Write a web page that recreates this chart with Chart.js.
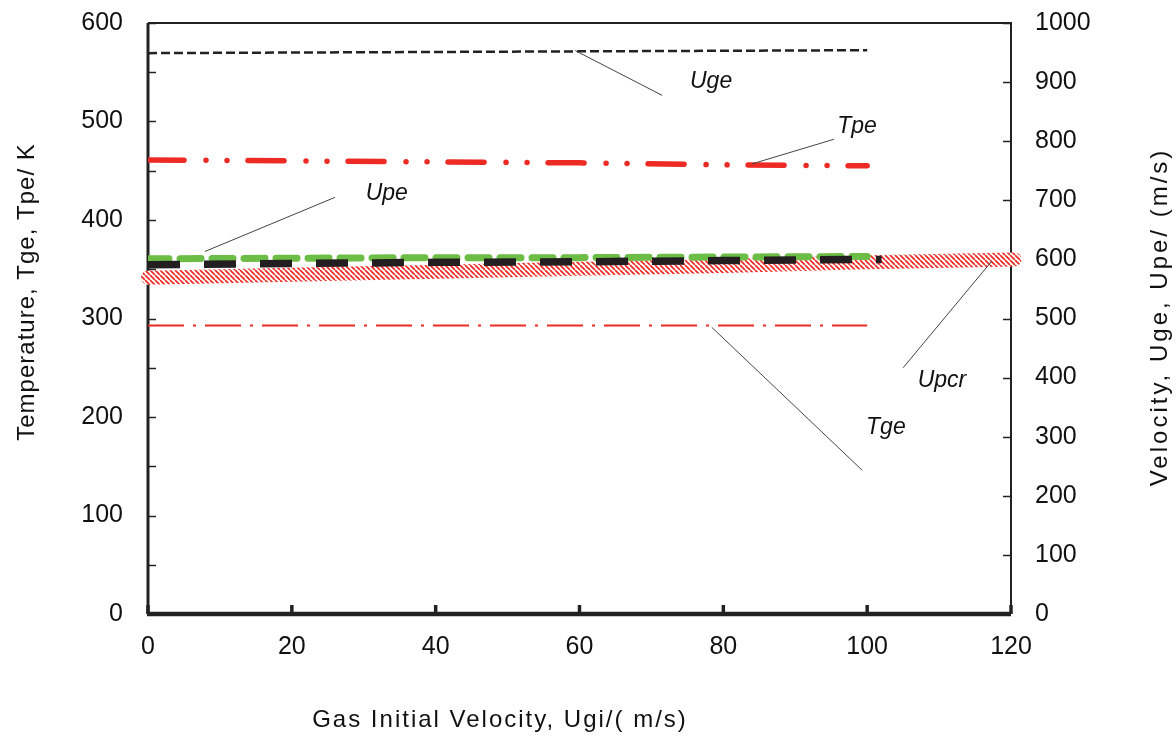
<!DOCTYPE html>
<html><head><meta charset="utf-8">
<script src="https://cdn.jsdelivr.net/npm/chart.js@4/dist/chart.umd.min.js"></script>
<style>html,body{margin:0;padding:0;background:#fff}#wrap{width:1176px;height:740px;position:relative}</style>
</head><body><div id="wrap"><canvas id="c" width="1176" height="740"></canvas></div>
<script>
// ---- data ----
const ugiX = [0, 20, 40, 60, 80, 100];
const ugeVals = [949, 950, 951, 952, 953, 954];      // right axis
const tpeVals = [461, 460, 459, 458, 456, 455];      // left axis
const upeVals = [601, 602, 603, 603, 604, 605];      // right axis
const tgeVals = [293, 293, 293, 293, 293, 293];      // left axis
const blackX = [0, 20, 40, 60, 80, 100, 102];
const blackVals = [591, 593, 595, 596, 598, 600, 600]; // right axis
const upcrX = [0, 20, 40, 60, 80, 100, 120.5];
const upcrVals = [569, 574, 579, 584, 589, 595, 600]; // right axis
const leftTicks = [0, 100, 200, 300, 400, 500, 600];
const rightTicks = [0, 100, 200, 300, 400, 500, 600, 700, 800, 900, 1000];
const xTicks = [0, 20, 40, 60, 80, 100, 120];
const leftTitle = 'Temperature, Tge, Tpe/ K';
const rightTitle = 'Velocity, Uge, Upe/ (m/s)';
const xTitle = 'Gas Initial Velocity, Ugi/( m/s)';
const notes = [
  {text: 'Uge',  at: [78.3, 540], from: [59.4, 572], to: [71.5, 526.5]},
  {text: 'Tpe',  at: [98.6, 495], from: [84.0, 457], to: [95.4, 482]},
  {text: 'Upe',  at: [33.2, 427], from: [7.9, 368],  to: [26.0, 423]},
  {text: 'Upcr', at: [110.4, 237], from: [117.3, 358], to: [105.0, 250]},
  {text: 'Tge',  at: [102.6, 189], from: [78.4, 291], to: [99.3, 146]}
];

const pts = (xs, ys) => xs.map((x, i) => ({x: x, y: ys[i]}));
const FONT = '"Liberation Sans", Arial, sans-serif';

function hatch() {
  const s = 5, c = document.createElement('canvas');
  c.width = s; c.height = s;
  const g = c.getContext('2d');
  g.fillStyle = '#fff'; g.fillRect(0, 0, s, s);
  g.strokeStyle = '#ee2a24'; g.lineWidth = 1.7;
  for (let k = -1; k <= 1; k++) {
    g.beginPath(); g.moveTo(0, k * s); g.lineTo(s, s + k * s); g.stroke();
  }
  return g.createPattern(c, 'repeat');
}

const axesPlugin = {
  id: 'axesFrame',
  beforeDatasetsDraw(chart) {
    const {ctx, chartArea: a, scales} = chart;
    ctx.save();
    ctx.strokeStyle = '#222';
    ctx.lineCap = 'butt';
    ctx.lineWidth = 2;
    ctx.beginPath(); ctx.moveTo(a.left, a.top); ctx.lineTo(a.right, a.top); ctx.lineTo(a.right, a.bottom); ctx.stroke();
    ctx.lineWidth = 3;
    ctx.beginPath(); ctx.moveTo(a.left, a.top); ctx.lineTo(a.left, a.bottom); ctx.stroke();
    ctx.lineWidth = 1.5;
    for (let v = 0; v <= 600; v += 50) {
      const y = Math.round(scales.y.getPixelForValue(v)) + 0.5;
      ctx.beginPath(); ctx.moveTo(a.left, y); ctx.lineTo(a.left + 8, y); ctx.stroke();
    }
    for (const v of rightTicks) {
      const y = Math.round(scales.y2.getPixelForValue(v)) + 0.5;
      ctx.beginPath(); ctx.moveTo(a.right - 8, y); ctx.lineTo(a.right, y); ctx.stroke();
    }
    ctx.lineWidth = 4.5;
    ctx.beginPath(); ctx.moveTo(a.left - 1, a.bottom); ctx.lineTo(a.right, a.bottom); ctx.stroke();
    ctx.lineWidth = 3.5;
    for (const v of xTicks) {
      const x = scales.x.getPixelForValue(v);
      ctx.beginPath(); ctx.moveTo(x, a.bottom); ctx.lineTo(x, a.bottom - 9); ctx.stroke();
    }
    ctx.restore();
  },
  afterDraw(chart) {
    const {ctx, scales} = chart;
    ctx.save();
    ctx.fillStyle = '#111';
    ctx.font = '24px ' + FONT;
    ctx.textAlign = 'center'; ctx.textBaseline = 'middle';
    ctx.letterSpacing = '2px';
    ctx.fillText(xTitle, 500, 720);
    ctx.letterSpacing = '1px';
    ctx.save(); ctx.translate(27, 292); ctx.rotate(-Math.PI / 2); ctx.fillText(leftTitle, 0, 0); ctx.restore();
    ctx.letterSpacing = '3px';
    ctx.save(); ctx.translate(1160, 317); ctx.rotate(-Math.PI / 2); ctx.fillText(rightTitle, 0, 0); ctx.restore();
    ctx.letterSpacing = '0px';
    ctx.strokeStyle = '#444'; ctx.lineWidth = 1;
    ctx.font = 'italic 23px ' + FONT;
    for (const n of notes) {
      ctx.beginPath();
      ctx.moveTo(scales.x.getPixelForValue(n.from[0]), scales.y.getPixelForValue(n.from[1]));
      ctx.lineTo(scales.x.getPixelForValue(n.to[0]), scales.y.getPixelForValue(n.to[1]));
      ctx.stroke();
      ctx.fillText(n.text, scales.x.getPixelForValue(n.at[0]), scales.y.getPixelForValue(n.at[1]));
    }
    ctx.restore();
  }
};

const noPad = s => { s.paddingTop = 0; s.paddingBottom = 0; s.paddingLeft = 0; s.paddingRight = 0; };
const RED = '#ee2a24';
new Chart(document.getElementById('c'), {
  type: 'line',
  data: {
    datasets: [
      {label: 'Uge', data: pts(ugiX, ugeVals), yAxisID: 'y2', borderColor: '#222', borderWidth: 2.5,
       borderDash: [9, 4], order: 1},
      {label: 'Tpe', data: pts(ugiX, tpeVals), yAxisID: 'y', borderColor: RED, borderWidth: 5.5,
       borderDash: [36, 22, 0.01, 21, 0.01, 21], borderCapStyle: 'round', order: 1},
      {label: 'black', data: pts(blackX, blackVals), yAxisID: 'y2', borderColor: '#231f20', borderWidth: 7.5,
       borderDash: [32, 24], order: 2},
      {label: 'Upe', data: pts(ugiX, upeVals), yAxisID: 'y2', borderColor: '#6bbd45', borderWidth: 7,
       borderDash: [21, 11], borderCapStyle: 'round', order: 3},
      {label: 'Upcr', data: pts(upcrX, upcrVals), yAxisID: 'y2', borderColor: hatch(), borderWidth: 14,
       borderCapStyle: 'round', clip: false, order: 4},
      {label: 'Tge', data: pts(ugiX, tgeVals), yAxisID: 'y', borderColor: RED, borderWidth: 2,
       borderDash: [36, 9, 3, 9], order: 1}
    ]
  },
  options: {
    responsive: false, devicePixelRatio: 1, animation: false,
    layout: {padding: {top: 23, left: 0, right: 0, bottom: 0}},
    elements: {point: {radius: 0}, line: {tension: 0}},
    plugins: {legend: {display: false}, tooltip: {enabled: false}},
    scales: {
      x: {type: 'linear', min: 0, max: 120,
          afterBuildTicks: s => { s.ticks = xTicks.map(v => ({value: v})); },
          afterFit: s => { s.height = 126; noPad(s); },
          grid: {display: false, drawTicks: false}, border: {display: false},
          ticks: {color: '#111', padding: 18, font: {family: FONT, size: 25}, maxRotation: 0,
                  callback: v => String(v)}},
      y: {position: 'left', min: 0, max: 600,
          afterBuildTicks: s => { s.ticks = leftTicks.map(v => ({value: v})); },
          afterFit: s => { s.width = 148; noPad(s); },
          grid: {display: false, drawTicks: false}, border: {display: false},
          ticks: {color: '#111', padding: 25, font: {family: FONT, size: 25}, callback: v => String(v)}},
      y2: {position: 'right', min: 0, max: 1000,
          afterBuildTicks: s => { s.ticks = rightTicks.map(v => ({value: v})); },
          afterFit: s => { s.width = 165; noPad(s); },
          grid: {display: false, drawTicks: false}, border: {display: false},
          ticks: {color: '#111', padding: 24, font: {family: FONT, size: 25}, callback: v => String(v)}}
    }
  },
  plugins: [axesPlugin]
});
</script></body></html>
